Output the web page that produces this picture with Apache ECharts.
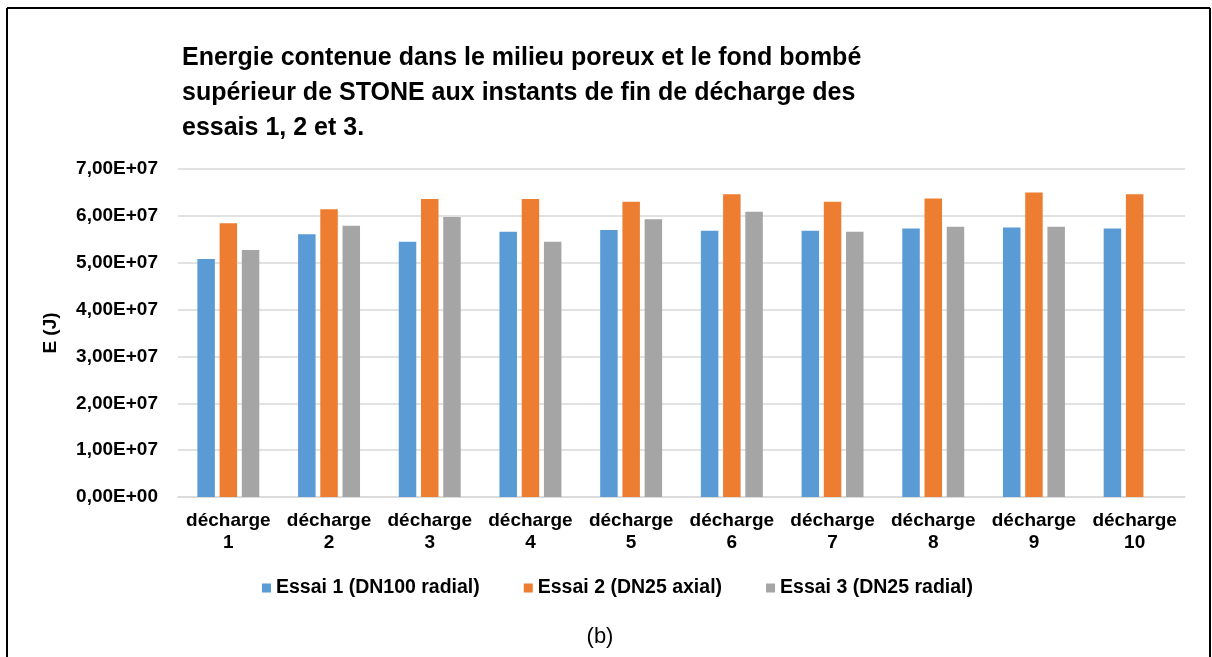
<!DOCTYPE html>
<html>
<head>
<meta charset="utf-8">
<script src="https://cdn.jsdelivr.net/npm/echarts@6/dist/echarts.min.js"></script>
<style>
  html, body { margin: 0; padding: 0; background: #fff; }
  #chart { width: 1212px; height: 657px; }
</style>
</head>
<body>
<div id="chart"></div>
<script>
// Energy stored at the end of each discharge, per test (J)
const categories = ['décharge\n1', 'décharge\n2', 'décharge\n3', 'décharge\n4', 'décharge\n5',
                    'décharge\n6', 'décharge\n7', 'décharge\n8', 'décharge\n9', 'décharge\n10'];
const essai1 = [5.08e7, 5.61e7, 5.45e7, 5.66e7, 5.70e7, 5.68e7, 5.68e7, 5.73e7, 5.75e7, 5.73e7];
const essai2 = [5.84e7, 6.14e7, 6.36e7, 6.36e7, 6.30e7, 6.46e7, 6.30e7, 6.37e7, 6.50e7, 6.46e7];
const essai3 = [5.27e7, 5.79e7, 5.975e7, 5.45e7, 5.93e7, 6.09e7, 5.66e7, 5.77e7, 5.77e7, null];
const seriesNames = ['Essai 1 (DN100 radial)', 'Essai 2 (DN25 axial)', 'Essai 3 (DN25 radial)'];
const titleLines = [
  'Energie contenue dans le milieu poreux et le fond bombé',
  'supérieur de STONE aux instants de fin de décharge des',
  'essais 1, 2 et 3.'
];
const yMin = 0, yMax = 7e7, yStep = 1e7;

const FONT = "'Liberation Sans', Arial, sans-serif";
const colors = ['#5B9BD5', '#ED7D31', '#A5A5A5'];

// Excel-style scientific label: 6,00E+07
function sci(v) {
  if (v === 0) return '0,00E+00';
  const e = Math.floor(Math.log10(Math.abs(v)));
  const m = (v / Math.pow(10, e)).toFixed(2).replace('.', ',');
  const sign = e < 0 ? '-' : '+';
  return m + 'E' + sign + String(Math.abs(e)).padStart(2, '0');
}

const chart = echarts.init(document.getElementById('chart'), null, { renderer: 'canvas' });

const barStyle = { barWidth: 17.5, barGap: '27%' };

chart.setOption({
  animation: false,
  backgroundColor: '#ffffff',
  title: {
    text: titleLines.join('\n'),
    left: 177,
    top: 36,
    textStyle: { fontFamily: FONT, fontSize: 25, fontWeight: 'bold', color: '#000', lineHeight: 35 }
  },
  legend: {
    left: 257,
    top: 573,
    icon: 'rect',
    itemWidth: 9,
    itemHeight: 9,
    itemGap: 44,
    data: seriesNames,
    textStyle: { fontFamily: FONT, fontSize: 19.5, fontWeight: 'bold', color: '#000' }
  },
  grid: { left: 178, right: 27, top: 169, bottom: 160, containLabel: false },
  xAxis: {
    type: 'category',
    data: categories,
    axisLine: { lineStyle: { color: '#D9D9D9', width: 1.5 } },
    axisTick: { show: false },
    axisLabel: {
      interval: 0,
      margin: 13,
      fontFamily: FONT, fontSize: 19, fontWeight: 'bold', color: '#000', lineHeight: 22
    }
  },
  yAxis: {
    type: 'value',
    min: yMin, max: yMax, interval: yStep,
    name: 'E (J)',
    nameLocation: 'middle',
    nameGap: 118,
    nameRotate: 90,
    nameTextStyle: { fontFamily: FONT, fontSize: 19, fontWeight: 'bold', color: '#000' },
    axisLine: { show: false },
    axisTick: { show: false },
    splitLine: { lineStyle: { color: '#D9D9D9', width: 1.5 } },
    axisLabel: {
      margin: 20,
      formatter: sci,
      fontFamily: FONT, fontSize: 19, fontWeight: 'bold', color: '#000'
    }
  },
  series: [
    Object.assign({ name: seriesNames[0], type: 'bar', data: essai1, itemStyle: { color: colors[0] } }, barStyle),
    Object.assign({ name: seriesNames[1], type: 'bar', data: essai2, itemStyle: { color: colors[1] } }, barStyle),
    Object.assign({ name: seriesNames[2], type: 'bar', data: essai3, itemStyle: { color: colors[2] } }, barStyle)
  ],
  graphic: [
    // frame around the figure
    { type: 'line', shape: { x1: 7, y1: 8, x2: 1210, y2: 8 }, style: { stroke: '#000', lineWidth: 2 } },
    { type: 'line', shape: { x1: 7, y1: 8, x2: 7, y2: 657 }, style: { stroke: '#000', lineWidth: 2 } },
    { type: 'line', shape: { x1: 1210, y1: 8, x2: 1210, y2: 657 }, style: { stroke: '#000', lineWidth: 2 } },
    // panel caption
    {
      type: 'text', x: 600, y: 637,
      style: { text: '(b)', fontFamily: FONT, fontSize: 22, fill: '#000', align: 'center', verticalAlign: 'middle' }
    }
  ]
});
</script>
</body>
</html>
